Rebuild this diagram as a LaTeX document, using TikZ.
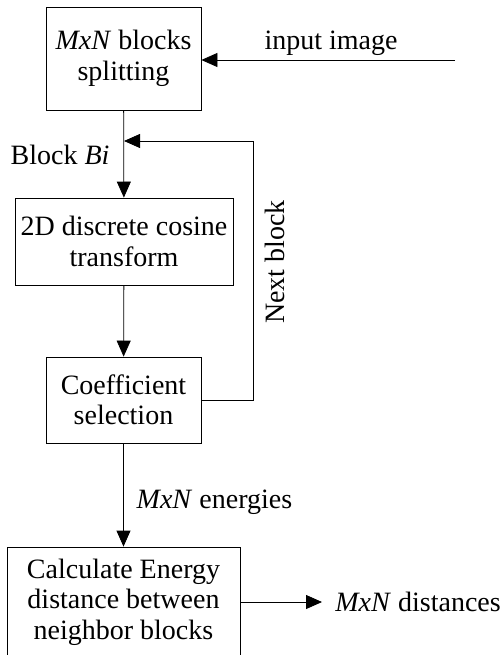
\documentclass[tikz,border=0pt]{standalone}
\usepackage{fontspec}
\setmainfont{Liberation Serif}
\usetikzlibrary{arrows.meta}
\begin{document}
\begin{tikzpicture}[x=1pt,y=-1pt,line width=0.8pt,
    >={Triangle[length=16pt,width=14pt]},
    every node/.style={font=\fontsize{28}{30.5}\selectfont},
    box/.style={draw,align=center,inner sep=0pt}]
      \useasboundingbox (0,0) rectangle (500,655);
      \node[box,minimum width=155pt,minimum height=103pt](split) at(123.5,58.5) {\textit{MxN} blocks\\splitting};
      \node[box,minimum width=218pt,minimum height=87pt](dct) at(124,241.5) {2D discrete cosine\\transform};
      \node[box,minimum width=155pt,minimum height=86pt](sel) at(123.5,400) {Coefficient\\selection};
      \node[box,minimum width=233pt,minimum height=110pt](calc) at(123.5,602) {Calculate Energy\\distance between\\neighbor blocks};
      \coordinate (in) at(455,60);
      \coordinate (fb) at(124,141);
      \coordinate (out) at(322,602);
      \foreach \x/\y in {split/dct,dct/sel,sel/calc}{
        \draw[->](\x)--(\y);
      }
      \draw[->](in)--(split.east|-in);
      \draw[->](sel.east)-|(253,141)--(fb);
      \draw[->](calc.east)--(out);
      \node(inlab) at(331,43) {input image};
      \node(bilab) at(60,155) {Block \textit{Bi}};
      \node[rotate=90](nextlab) at(275,262) {Next block};
      \node[anchor=west](enlab) at(133,502) {\textit{MxN} energies};
      \node[anchor=west,inner sep=0pt](outlab) at(335,602) {\textit{MxN} distances};
    \end{tikzpicture}
\end{document}
